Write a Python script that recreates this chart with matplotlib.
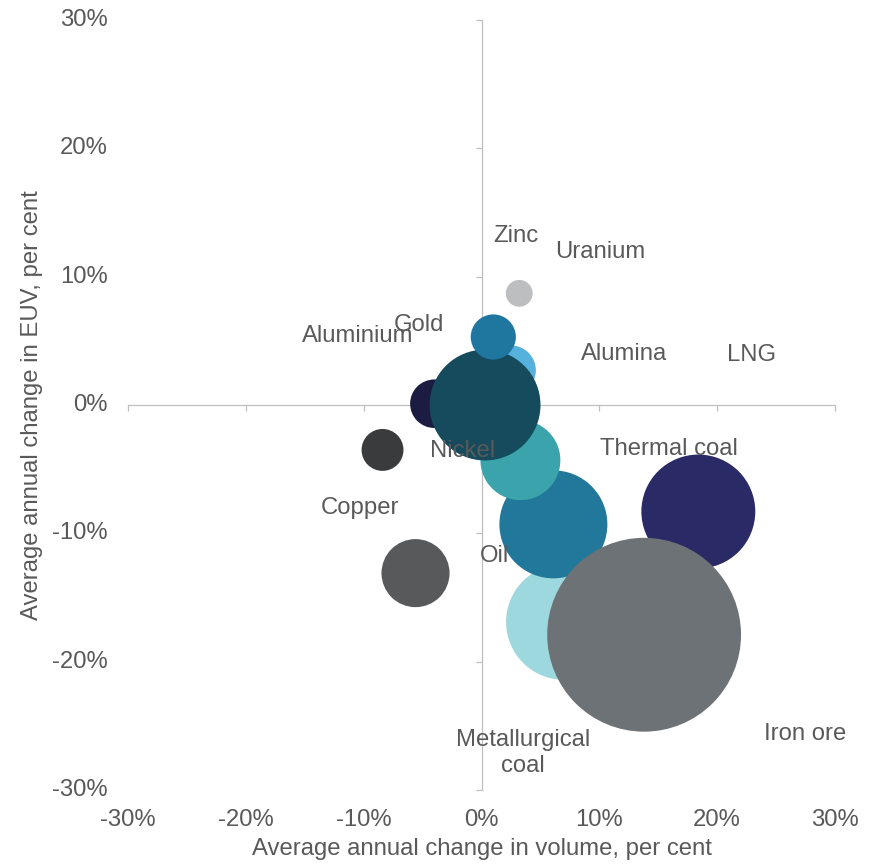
import matplotlib
matplotlib.use("Agg")
import matplotlib.pyplot as plt
from matplotlib.transforms import blended_transform_factory

plt.rcParams["font.family"] = ["Liberation Sans", "DejaVu Sans"]

# Commodities: average annual change in volume (x, %) and in EUV (y, %)
commodities = ["Uranium", "Zinc", "Aluminium", "Copper", "Alumina",
               "Metallurgical coal", "Thermal coal", "Oil", "Iron ore",
               "Nickel", "LNG", "Gold"]
volume_change = [3.2, 2.5, -4.0, -8.4, -5.6, 7.0, 18.4, 6.1, 13.8, 3.3, 0.3, 1.0]
euv_change = [8.7, 2.7, 0.1, -3.5, -13.1, -16.9, -8.3, -9.3, -17.9, -4.3, 0.0, 5.3]
bubble_value = [1.8, 6.2, 5.9, 4.4, 11.6, 33.6, 32.5, 29.2, 94.1, 16.0, 30.8, 5.1]
bubble_colors = ["#bcbec0", "#56b1dd", "#1c1b42", "#3a3b3d", "#58595b",
                 "#9dd8df", "#2a2a66", "#22789b", "#6d7276", "#3aa3ab",
                 "#164a5d", "#1f77a0"]

# Data label placement (in axis units, %)
label_text = ["Zinc", "Uranium", "Gold", "Aluminium", "Alumina", "LNG",
              "Nickel", "Thermal coal", "Copper", "Oil",
              "Metallurgical\ncoal", "Iron ore"]
label_x = [2.9, 10.1, -5.3, -10.5, 12.1, 22.9, -1.6, 15.9, -10.3, 1.1, 3.5, 27.5]
label_y = [13.2, 11.9, 6.2, 5.4, 4.0, 3.9, -3.6, -3.4, -8.0, -11.8, -27.1, -25.6]

ticks = [-30, -20, -10, 0, 10, 20, 30]
tick_labels = ["-30%", "-20%", "-10%", "0%", "10%", "20%", "30%"]

text_color = "#595959"
axis_color = "#bfbfbf"
fs = 17.2

fig = plt.figure(figsize=(8.75, 8.64), dpi=100)
ax = fig.add_axes([0.1463, 0.0856, 0.808, 0.8913])
ax.set_xlim(-30, 30)
ax.set_ylim(-30, 30)

# bubble area proportional to value
size_scale = 207.0
for x, y, v, c in zip(volume_change, euv_change, bubble_value, bubble_colors):
    ax.scatter([x], [y], s=v * size_scale, color=c, edgecolors="none", zorder=2)

for t, x, y in zip(label_text, label_x, label_y):
    ax.text(x, y, t, ha="center", va="center", fontsize=fs, color=text_color,
            zorder=5, linespacing=1.25)

# axes crossing at zero
for side in ["top", "right"]:
    ax.spines[side].set_visible(False)
ax.spines["left"].set_position(("data", 0))
ax.spines["bottom"].set_position(("data", 0))
for side in ["left", "bottom"]:
    ax.spines[side].set_color(axis_color)
    ax.spines[side].set_linewidth(0.9)
    ax.spines[side].set_zorder(1)
ax.set_xticks(ticks)
ax.set_yticks(ticks)
ax.tick_params(axis="both", direction="out", length=4, width=0.9,
               color=axis_color, labelbottom=False, labelleft=False)

# tick labels along the outer edges
tx = blended_transform_factory(ax.transData, ax.transAxes)
ty = blended_transform_factory(ax.transAxes, ax.transData)
for t, lab in zip(ticks, tick_labels):
    ax.text(t, -0.039, lab, transform=tx, ha="center", va="center",
            fontsize=fs, color=text_color)
    ax.text(-0.029, t, lab, transform=ty, ha="right", va="center",
            fontsize=fs, color=text_color)

fig.text(482 / 875, 1 - 849 / 864, "Average annual change in volume, per cent",
         ha="center", va="center", fontsize=fs, color=text_color)
fig.text(32 / 875, 1 - 405 / 864, "Average annual change in EUV, per cent",
         ha="center", va="center", rotation=90, fontsize=fs, color=text_color)

fig.savefig("out.png", dpi=100)
